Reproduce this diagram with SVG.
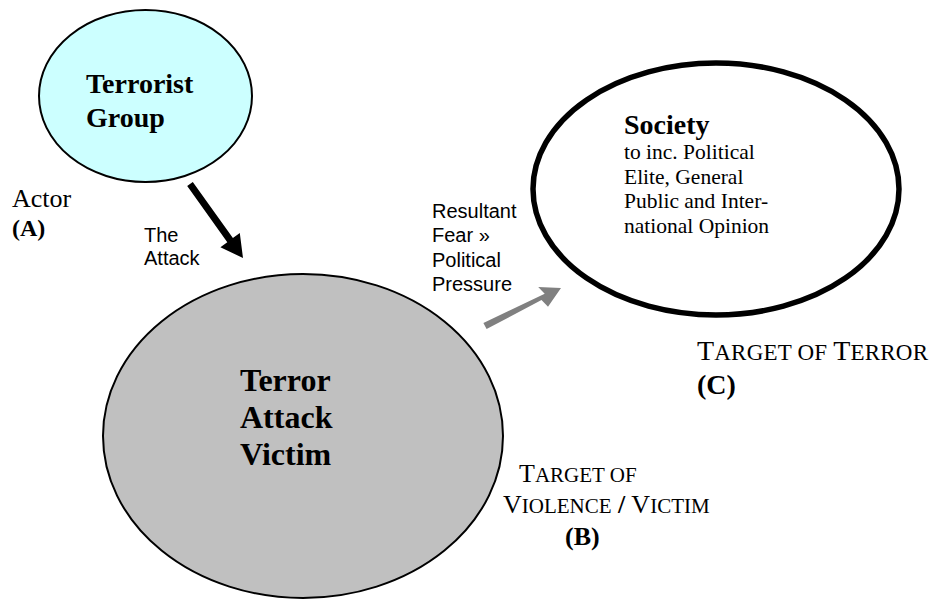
<svg xmlns="http://www.w3.org/2000/svg" width="934" height="599" viewBox="0 0 934 599">
<style>
.serif{font-family:"Liberation Serif","Times New Roman",serif;fill:#000}
.sans{font-family:"Liberation Sans",Arial,sans-serif;fill:#000}
.b{font-weight:bold}
</style>
<rect width="934" height="599" fill="#fff"/>
<g id="connectors">
  <polygon id="attack-arrow" fill="#000" points="187.2,186.1 192.8,181.9 232.9,238.1 239.8,233.1 243,258 220.4,247.3 227.3,242.3"/>
  <polygon id="pressure-arrow" fill="#808080" points="483.4,322.9 486.6,329.1 541.5,300.0 548,306.7 561,288 538.2,287.1 544.7,293.8"/>
</g>
<g id="terrorist-group">
  <ellipse cx="145.5" cy="96" rx="106.5" ry="86" fill="#ccffff" stroke="#000" stroke-width="2"/>
  <text class="serif b" font-size="28"><tspan x="86" y="93">Terrorist</tspan><tspan x="86" y="127">Group</tspan></text>
</g>
<g id="victim">
  <ellipse cx="303" cy="436" rx="200" ry="162" fill="#c0c0c0" stroke="#000" stroke-width="2"/>
  <text class="serif b" font-size="32"><tspan x="240" y="391">Terror</tspan><tspan x="240" y="428">Attack</tspan><tspan x="240" y="465">Victim</tspan></text>
</g>
<g id="society">
  <ellipse cx="716" cy="189" rx="183" ry="126" fill="#fff" stroke="#000" stroke-width="5.5"/>
  <text class="serif b" font-size="28" x="624" y="134">Society</text>
  <text class="serif" font-size="21.5"><tspan x="624" y="159">to inc. Political</tspan><tspan x="624" y="184">Elite, General</tspan><tspan x="624" y="208">Public and Inter-</tspan><tspan x="624" y="233">national Opinion</tspan></text>
</g>
<g id="labels">
  <text class="serif" font-size="26" x="12" y="207">Actor</text>
  <text class="serif b" font-size="24" x="12" y="236">(A)</text>
  <text class="sans" font-size="20"><tspan x="144" y="242">The</tspan><tspan x="144" y="265">Attack</tspan></text>
  <text class="sans" font-size="20"><tspan x="432" y="218">Resultant</tspan><tspan x="432" y="242">Fear »</tspan><tspan x="432" y="267">Political</tspan><tspan x="432" y="291">Pressure</tspan></text>
  <text class="serif" font-size="28" x="697" y="360" textLength="231" lengthAdjust="spacing">T<tspan font-size="23">ARGET OF </tspan>T<tspan font-size="23">ERROR</tspan></text>
  <text class="serif b" font-size="28" x="697" y="394">(C)</text>
  <text class="serif" font-size="26" x="519" y="482">T<tspan font-size="21">ARGET OF</tspan></text>
  <text class="serif" font-size="26" x="503" y="513">V<tspan font-size="21">IOLENCE</tspan> <tspan class="b">/</tspan> V<tspan font-size="21">ICTIM</tspan></text>
  <text class="serif b" font-size="26" x="565" y="545">(B)</text>
</g>
</svg>
